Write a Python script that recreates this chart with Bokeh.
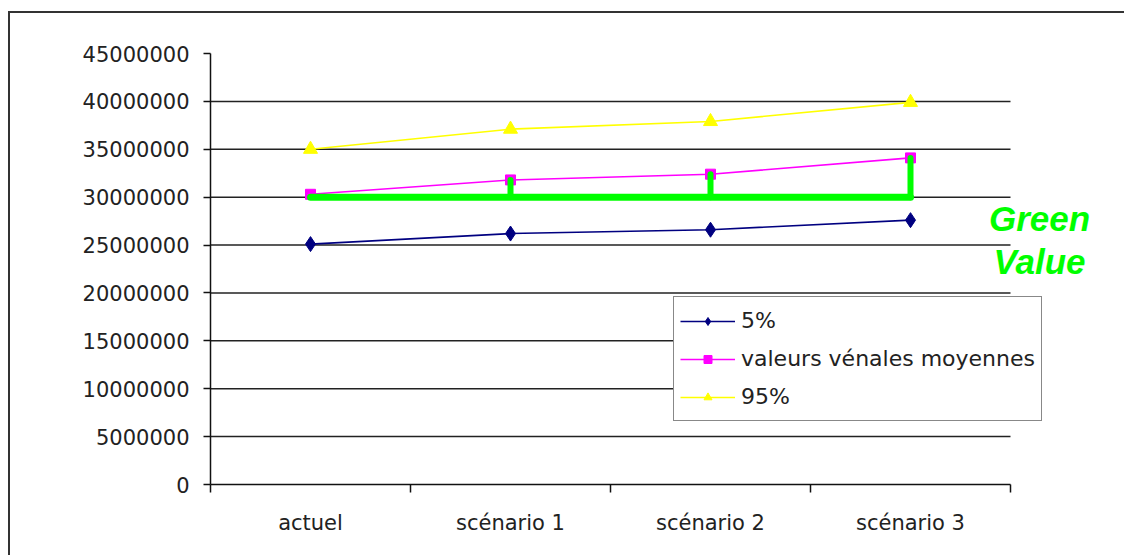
from bokeh.plotting import figure
from bokeh.models import FixedTicker, Range1d, Legend, LegendItem, Label
from bokeh.embed import file_html
from bokeh.resources import INLINE

# Categories on the x axis
categories = ["actuel", "scénario 1", "scénario 2", "scénario 3"]

# Series values
p5 = [25100000, 26200000, 26600000, 27600000]
moyennes = [30300000, 31800000, 32400000, 34100000]
p95 = [35000000, 37100000, 37900000, 39900000]

# Green value reference level
green_base = 30000000

# Y axis ticks
y_ticks = [0, 5000000, 10000000, 15000000, 20000000, 25000000,
           30000000, 35000000, 40000000, 45000000]

n = len(categories)
xs = [i + 0.5 for i in range(n)]

# The chart area continues past the right and bottom edges of the page;
# the frame runs on past the last category so the legend and the side
# note are not clipped, while the axis and the grid stop at the last
# category boundary.
p = figure(width=1130, height=550, output_backend="svg", toolbar_location=None,
           x_range=Range1d(0, 4.47), y_range=Range1d(0, 45000000),
           min_border_left=200, min_border_right=36, min_border_top=40,
           min_border_bottom=79)
p.styles = {"position": "absolute", "left": "10px", "top": "13px",
            "box-shadow": "-2px -2px 0 0 #333"}
p.outline_line_color = None
p.background_fill_color = "white"
p.border_fill_color = "white"

# x axis: labels centred in each category, tick marks on the boundaries
p.xaxis.bounds = (0, n)
p.xaxis.ticker = FixedTicker(ticks=xs, minor_ticks=list(range(n + 1)))
p.xaxis.major_label_overrides = {x: c for x, c in zip(xs, categories)}
p.xaxis.major_tick_out = 0
p.xaxis.major_tick_in = 0
p.xaxis.minor_tick_out = 8
p.xaxis.minor_tick_in = 0
p.xaxis.minor_tick_line_color = "#111"
p.xaxis.minor_tick_line_width = 1.5
p.xaxis.major_label_standoff = 18

p.yaxis.ticker = FixedTicker(ticks=y_ticks)
p.yaxis.major_label_overrides = {t: str(t) for t in y_ticks}
p.yaxis.major_tick_out = 7
p.yaxis.major_tick_in = 0
p.yaxis.minor_tick_out = 0
p.yaxis.minor_tick_in = 0
p.yaxis.major_tick_line_width = 1.5
p.yaxis.major_label_standoff = 14

for ax in (p.xaxis, p.yaxis):
    ax.axis_line_color = "#111"
    ax.axis_line_width = 1.5
    ax.major_tick_line_color = "#111"
    ax.major_label_text_font = "DejaVu Sans"
    ax.major_label_text_font_size = "21px"
    ax.major_label_text_color = "#222"

p.xgrid.visible = False
p.ygrid.visible = False

# Horizontal grid lines across the category span
grid_y = y_ticks[1:-1]
p.segment(x0=[0] * len(grid_y), y0=grid_y, x1=[n] * len(grid_y), y1=grid_y,
          line_color="#222", line_width=1.5)

# Series
l1 = p.line(xs, p5, line_color="#000080", line_width=1.6)
m1 = p.scatter(xs, p5, marker="diamond", size=15, fill_color="#000080",
               line_color="#000080")
l2 = p.line(xs, moyennes, line_color="#FF00FF", line_width=1.6)
m2 = p.scatter(xs, moyennes, marker="square", size=10, fill_color="#FF00FF",
               line_color="#FF00FF")
l3 = p.line(xs, p95, line_color="#FFFF00", line_width=1.6)
m3 = p.scatter(xs, p95, marker="triangle", size=14, fill_color="#FFFF00",
               line_color="#FFFF00")

# Green value: baseline and rises up to the mean values
p.line([xs[0], xs[-1]], [green_base, green_base], line_color="#00FF00",
       line_width=7, line_cap="round")
p.segment(x0=xs[1:], y0=[green_base] * (n - 1), x1=xs[1:], y1=moyennes[1:],
          line_color="#00FF00", line_width=6, line_cap="round")

legend = Legend(items=[
    LegendItem(label="5%", renderers=[l1, m1]),
    LegendItem(label="valeurs vénales moyennes", renderers=[l2, m2]),
    LegendItem(label="95%", renderers=[l3, m3]),
], location=(463, 63))
legend.label_text_font = "DejaVu Sans"
legend.label_text_font_size = "22px"
legend.label_text_color = "#222"
legend.glyph_width = 55
legend.glyph_height = 20
legend.label_height = 35
legend.label_standoff = 6
legend.padding = 6
legend.spacing = 3
legend.margin = 0
legend.border_line_color = "#111"
legend.border_line_width = 1.5
legend.background_fill_color = "white"
legend.background_fill_alpha = 1
p.add_layout(legend)

for txt, yv in (("Green", 27800000), ("Value", 23300000)):
    p.add_layout(Label(x=4.145, y=yv, text=txt, text_align="center",
                       text_baseline="alphabetic", text_color="#00FF00",
                       text_font="Liberation Sans", text_font_style="bold italic",
                       text_font_size="35px"))

html = file_html(p, INLINE)
# the page itself never scrolls: the chart area runs past its edges
html = html.replace("<head>", "<head><style>html, body { margin: 0; overflow: hidden; }</style>", 1)
open("out.html", "w").write(html)
